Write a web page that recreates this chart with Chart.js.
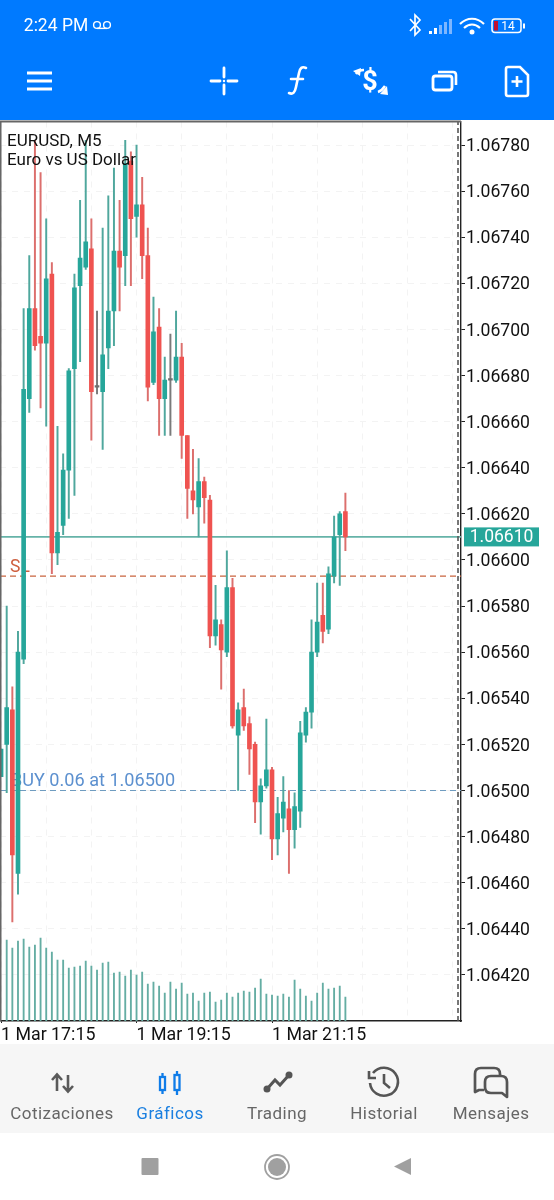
<!DOCTYPE html>
<html lang="es">
<head>
<meta charset="utf-8">
<title>EURUSD, M5</title>
<script src="https://cdn.jsdelivr.net/npm/chart.js@4/dist/chart.umd.min.js"></script>
<style>
html,body{margin:0;padding:0;background:#fff;width:554px;height:1200px;overflow:hidden;font-family:Roboto,sans-serif}
#head{position:absolute;left:0;top:0;width:554px;height:120px;background:#007aff}
#wrap{position:absolute;left:0;top:120px;width:554px;height:925px}
#nav{position:absolute;left:0;top:1044px;width:554px;height:89px;background:#f6f6f6}
.t{position:absolute;white-space:nowrap;transform:translate(-50%,-50%)}
.navt{font-size:17px;letter-spacing:.45px;color:#666;top:1113px}
svg{position:absolute;left:0;top:0}
</style>
</head>
<body>
<div id="head"></div>
<div id="nav"></div>
<div id="wrap"><canvas id="c" width="554" height="925"></canvas></div>
<svg width="554" height="1200" viewBox="0 0 554 1200" fill="none">
  <!-- status bar -->
  <g stroke="#fff" stroke-width="1.4"><circle cx="97" cy="25" r="3.4"/><circle cx="107" cy="25" r="3.4"/><path d="M97 28.4h10"/></g>
  <path d="M410 19l10 11-5 5V15l5 5-10 11" stroke="#fff" stroke-width="1.7"/>
  <g fill="#fff"><rect x="429" y="31" width="3" height="3"/><rect x="434" y="28" width="3" height="6"/></g>
  <g fill="#7db6ff"><rect x="439" y="25" width="3" height="9"/><rect x="444" y="22" width="3" height="12"/><rect x="449" y="19" width="3" height="15"/></g>
  <g stroke="#fff" stroke-width="2.2"><path d="M460 24c7-7 17-7 24 0"/><path d="M464 28c5-4.500 11-4.500 16 0"/></g>
  <circle cx="472" cy="32" r="2.500" fill="#fff"/>
  <rect x="492" y="19" width="29" height="13.500" rx="3" stroke="#fff" stroke-width="1.500"/>
  <rect x="494" y="21" width="4" height="9.500" fill="#c01030"/>
  <rect x="523" y="23.500" width="2" height="5" fill="#fff"/>
  <!-- toolbar -->
  <g stroke="#fff" stroke-width="3"><path d="M27 73h25M27 81h25M27 89h25"/></g>
  <g stroke="#fff" stroke-width="2.800" stroke-linecap="round"><path d="M211 81h9M228 81h9M224 68v9M224 85v9"/></g>
  <circle cx="224" cy="81" r="1.200" fill="#fff"/>
  <path d="M289 93c4 2 6-1 7-6l3-14c1-5 3-7 7-5M291 79h12" stroke="#fff" stroke-width="2.600" stroke-linecap="round"/>
  <path d="M356 74c2-3 5-4 8-4M378 92c3-1 5-3 7-6" stroke="#fff" stroke-width="2.500"/>
  <path d="M353 71l8-3-1 8zM380 94l7-8 1 9z" fill="#fff"/>
  <rect x="433" y="76" width="19" height="14" rx="2.500" stroke="#fff" stroke-width="2.800"/>
  <path d="M438 72h15q3 0 3 3v10" stroke="#fff" stroke-width="2.600"/>
  <path d="M508 67h12l8 8v19q0 2-2 2h-18q-2 0-2-2V69q0-2 2-2z" stroke="#fff" stroke-width="2.600"/>
  <path d="M517 76v11M511.500 81.500h11" stroke="#fff" stroke-width="2.600"/>
  <!-- nav icons -->
  <g stroke="#5a5a5a" stroke-width="2.600"><path d="M57 1091v-16M52 1080l5-5.500 5 5.500"/><path d="M68 1075v16M63 1086l5 5.500 5-5.500"/></g>
  <g stroke="#0f7ce8" stroke-width="2.300"><rect x="160" y="1077" width="5" height="13"/><rect x="174.500" y="1075" width="5" height="15"/><path d="M162.500 1073v4M162.500 1090v4M177 1071v4M177 1090v5"/></g>
  <g stroke="#555" stroke-width="3"><path d="M267 1089l8-9 5 5 9-10"/></g>
  <g fill="#555"><circle cx="267" cy="1089" r="3.500"/><circle cx="289" cy="1075" r="3.500"/></g>
  <g stroke="#555" stroke-width="2.600"><path d="M373 1073a14 14 0 1 1-3 10"/><path d="M369 1071v7h7"/><path d="M384 1074v9l6 5"/></g>
  <g stroke="#555" stroke-width="2.700" stroke-linejoin="round"><path d="M484 1090h-5l-4 2v-18q0-6 6-6h13q6 0 6 6v2"/><path d="M491 1076h10q6 0 6 6v15l-5-4h-11q-6 0-6-6v-5q0-6 6-6z"/></g>
  <!-- system bar -->
  <rect x="141.500" y="1158" width="17" height="17" rx="1" fill="#a0a0a0"/>
  <circle cx="277" cy="1167" r="12" stroke="#a0a0a0" stroke-width="1.800"/><circle cx="277" cy="1167" r="9" fill="#a0a0a0"/>
  <path d="M411 1158v17l-17-8.500z" fill="#a0a0a0"/>
</svg>
<div class="t" style="left:56px;top:25px;color:#fff;font-size:17.5px">2:24 PM</div>
<div class="t" style="left:508px;top:26px;color:#fff;font-size:12px">14</div>
<div class="t" style="left:370px;top:81px;color:#fff;font-size:27px;font-weight:700">$</div>
<div class="t navt" style="left:62px">Cotizaciones</div>
<div class="t navt" style="left:170px;color:#1a7fe0">Gráficos</div>
<div class="t navt" style="left:277px">Trading</div>
<div class="t navt" style="left:384px">Historial</div>
<div class="t navt" style="left:491px">Mensajes</div>
<script>
const opens =[1.06506,1.06520,1.06535,1.06464,1.06557,1.06670,1.06709,1.06697,1.06694,1.06724,1.06603,1.06615,1.06639,1.06683,1.06719,1.06727,1.06735,1.06675,1.06673,1.06692,1.06708,1.06734,1.06732,1.06773,1.06749,1.06754,1.06732,1.06677,1.06701,1.06670,1.06678,1.06678,1.06688,1.06654,1.06630,1.06623,1.06634,1.06626,1.06567,1.06572,1.06560,1.06588,1.06524,1.06536,1.06529,1.06520,1.06495,1.06502,1.06509,1.06479,1.06488,1.06492,1.06483,1.06491,1.06524,1.06534,1.06560,1.06576,1.06570,1.06593,1.06611,1.06621];
const highs =[1.06518,1.06580,1.06545,1.06569,1.06709,1.06732,1.06782,1.06768,1.06748,1.06729,1.06658,1.06646,1.06683,1.06724,1.06756,1.06782,1.06748,1.06708,1.06744,1.06758,1.06770,1.06756,1.06782,1.06777,1.06780,1.06766,1.06744,1.06714,1.06709,1.06688,1.06698,1.06708,1.06694,1.06654,1.06648,1.06644,1.06636,1.06628,1.06589,1.06574,1.06604,1.06592,1.06538,1.06544,1.06532,1.06521,1.06505,1.06531,1.06510,1.06497,1.06506,1.06500,1.06499,1.06530,1.06536,1.06574,1.06590,1.06590,1.06597,1.06619,1.06621,1.06629];
const lows  =[1.06506,1.06499,1.06443,1.06455,1.06555,1.06664,1.06691,1.06666,1.06658,1.06594,1.06598,1.06611,1.06618,1.06628,1.06686,1.06726,1.06652,1.06672,1.06648,1.06683,1.06693,1.06708,1.06719,1.06719,1.06740,1.06722,1.06669,1.06676,1.06654,1.06654,1.06654,1.06677,1.06644,1.06618,1.06620,1.06610,1.06616,1.06562,1.06563,1.06544,1.06558,1.06527,1.06500,1.06526,1.06507,1.06486,1.06481,1.06501,1.06470,1.06472,1.06482,1.06464,1.06475,1.06484,1.06521,1.06527,1.06558,1.06564,1.06568,1.06590,1.06589,1.06604];
const closes=[1.06518,1.06536,1.06472,1.06560,1.06674,1.06709,1.06693,1.06694,1.06722,1.06603,1.06612,1.06639,1.06682,1.06718,1.06731,1.06738,1.06673,1.06675,1.06689,1.06708,1.06734,1.06727,1.06772,1.06748,1.06754,1.06732,1.06675,1.06699,1.06670,1.06678,1.06678,1.06688,1.06654,1.06631,1.06626,1.06634,1.06627,1.06567,1.06574,1.06561,1.06588,1.06528,1.06535,1.06528,1.06518,1.06495,1.06502,1.06509,1.06479,1.06490,1.06495,1.06483,1.06493,1.06525,1.06534,1.06560,1.06573,1.06569,1.06594,1.06610,1.06620,1.06610];
const volumes=[null,81,73,80,82,74,76,83,73,69,61,61,53,54,55,60,55,51,58,59,48,49,45,51,46,49,37,39,35,28,39,32,38,27,28,20,28,29,19,21,28,24,28,30,29,33,42,27,26,25,27,24,41,32,25,20,28,38,32,33,35,24];
const priceTicks=[1.0678,1.0676,1.0674,1.0672,1.0670,1.0668,1.0666,1.0664,1.0662,1.0660,1.0658,1.0656,1.0654,1.0652,1.0650,1.0648,1.0646,1.0644,1.0642];
const timeTickIndex=[0,8,16,24,32,40,48,56,64,72,80];
const timeTickLabels=['1 Mar 17:15','','','1 Mar 19:15','','','1 Mar 21:15','','','',''];
const bidPrice=1.0661, slPrice=1.06593, buyPrice=1.065;
const priceMin=1.064, priceMax=1.067902, volumeMax=899.5, xMin=-0.187, xMax=81.48, shiftMark=80.95;

const TEAL='#26a69a',RED='#ef5350',GREY='#6f6f6f';
const isDoji=i=>opens[i]===closes[i];
const bodyColor=i=>isDoji(i)?GREY:(closes[i]>opens[i]?TEAL:RED);
const wickColor=i=>isDoji(i)?'#7a7a7a':(closes[i]>opens[i]?'#4fa79d':'#dc6f6d');
const hline=(p,color,dash,w)=>({type:'line',data:[{x:xMin,y:p},{x:xMax,y:p}],borderColor:color,borderDash:dash,borderWidth:w,pointRadius:0,order:6,yAxisID:'y'});

const overlay={id:'overlay',
 beforeDatasetsDraw(ch){
  const {ctx,scales:{y}}=ch;ctx.save();
  ctx.font='17.5px Roboto';ctx.textBaseline='alphabetic';
  ctx.fillStyle='#cf5f3f';ctx.fillText('SL',10,y.getPixelForValue(slPrice)-4);
  ctx.fillStyle='#5c90cf';ctx.font='18.1px Roboto';ctx.fillText('BUY 0.06 at 1.06500',11,y.getPixelForValue(buyPrice)-4);
  ctx.restore();
 },
 afterDraw(ch){
  const {ctx,chartArea:a,scales:{y}}=ch;ctx.save();
  ctx.strokeStyle='#666';ctx.lineWidth=2;
  ctx.beginPath();ctx.moveTo(a.left+.5,a.bottom);ctx.lineTo(a.left+.5,a.top);ctx.lineTo(a.right,a.top);ctx.stroke();
  ctx.fillStyle='#111';ctx.font='17px Roboto';ctx.textBaseline='alphabetic';
  ctx.fillText('EURUSD, M5',7,26);ctx.fillText('Euro vs US Dollar',7,45);
  const py=y.getPixelForValue(bidPrice);
  ctx.fillStyle=TEAL;ctx.fillRect(464,py-9.5,75,19);
  ctx.fillStyle='#fff';ctx.font='17.5px Roboto';ctx.textAlign='center';ctx.textBaseline='middle';
  ctx.fillText(bidPrice.toFixed(5),501.5,py+1);
  ctx.restore();
 }};

new Chart(document.getElementById('c'),{
 data:{datasets:[
  {type:'bar',label:'body',data:opens.map((o,i)=>({x:i,y:[o,closes[i]]})),backgroundColor:opens.map((_,i)=>bodyColor(i)),barThickness:4,minBarLength:1.5,grouped:false,order:1,yAxisID:'y'},
  {type:'bar',label:'wick',data:lows.map((l,i)=>({x:i,y:[l,highs[i]]})),backgroundColor:lows.map((_,i)=>wickColor(i)),barThickness:1.3,grouped:false,order:2,yAxisID:'y'},
  {type:'bar',label:'volume',data:volumes.map((v,i)=>({x:i,y:v})),backgroundColor:'#64ada3',barThickness:1.2,grouped:false,order:3,yAxisID:'yVol'},
  hline(bidPrice,'#66b3a8',[],1.6),
  hline(slPrice,'#c9643f',[6,4],1.2),
  hline(buyPrice,'#6f9cc0',[6,4],1.2),
  {type:'line',data:[{x:shiftMark,y:priceMin},{x:shiftMark,y:priceMax}],borderColor:'#555',borderDash:[5,3],borderWidth:1.6,pointRadius:0,order:5,yAxisID:'y'}
 ]},
 options:{
  responsive:false,animation:false,devicePixelRatio:1,
  layout:{padding:{top:1.5,left:0,right:0,bottom:0}},
  plugins:{legend:{display:false},tooltip:{enabled:false},title:{display:false}},
  scales:{
   x:{type:'linear',position:'bottom',min:xMin,max:xMax,offset:false,
    afterBuildTicks(s){s.ticks=timeTickIndex.map(v=>({value:v}));},
    afterFit(s){s.height=24;s.paddingLeft=0;s.paddingRight=0;},
    grid:{color:'#f3f3f3',tickColor:c=>timeTickLabels[c.index]?'#222':'rgba(0,0,0,0)',tickLength:2,offset:false},
    border:{color:'#222',width:1.4,dash:[6,6]},
    ticks:{autoSkip:false,maxRotation:0,minRotation:0,align:'start',padding:2,color:'#111',font:{family:'Roboto',size:17.8},
     callback:(v,i)=>timeTickLabels[i]}},
   y:{type:'linear',position:'right',min:priceMin,max:priceMax,
    afterBuildTicks(s){s.ticks=priceTicks.map(v=>({value:v}));},
    afterFit(s){s.width=93;s.paddingTop=0;s.paddingBottom=0;},
    grid:{color:'#f3f3f3',tickColor:'#222',tickLength:4},
    border:{color:'#222',width:1.4,dash:[6,6]},
    ticks:{autoSkip:false,padding:1,color:'#111',font:{family:'Roboto',size:17.6,lineHeight:0.2},callback:v=>['',v.toFixed(5)]}},
   yVol:{type:'linear',display:false,min:0,max:volumeMax}
  }},
 plugins:[overlay]
});
</script>
</body>
</html>
